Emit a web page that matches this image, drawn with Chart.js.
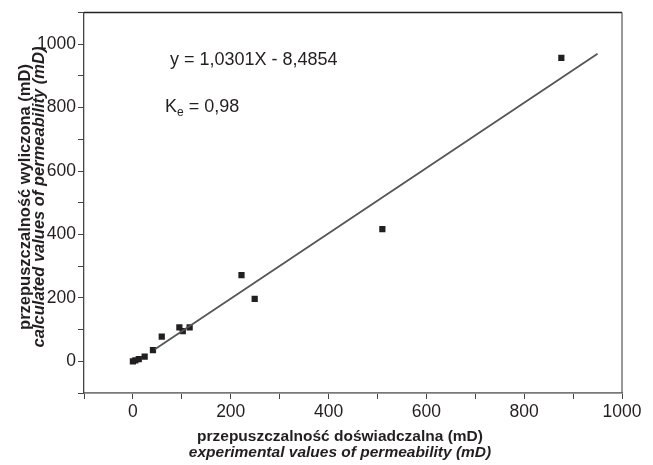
<!DOCTYPE html>
<html>
<head>
<meta charset="utf-8">
<script src="https://cdn.jsdelivr.net/npm/chart.js@4/dist/chart.umd.min.js"></script>
<style>
    body { margin: 0; background: #fff; }
    #wrap { width: 653px; height: 465px; }
</style>
</head>
<body>
<div id="wrap"><canvas id="permChart" width="653" height="465"></canvas></div>
<script>
// measured vs calculated permeability (mD)
const expValues = [0, 5, 12, 24, 41, 59, 95, 102, 116, 222, 249, 510, 876];
const calcValues = [0, 3, 7, 15, 35, 78, 107, 95, 107, 272, 197, 417, 957];

// ends of the fitted line
const fitX = [45, 950];
const fitY = [38, 970];

const xTitle = ['przepuszczalność doświadczalna (mD)', 'experimental values of permeability (mD)'];
const yTitle = ['przepuszczalność wyliczona (mD)', 'calculated values of permeability (mD)'];
const equationText = 'y = 1,0301X - 8,4854';
const keText = ['K', 'e', ' = 0,98'];

const ink = '#231f20';
const fontFamily = '"Liberation Sans", Arial, sans-serif';

const frameAndText = {
    id: 'frameAndText',
    afterDraw(chart) {
        const ctx = chart.ctx;
        const a = chart.chartArea;
        ctx.save();
        // top and right edges of the frame
        ctx.lineWidth = 1.5;
        ctx.strokeStyle = '#222';
        ctx.beginPath();
        ctx.moveTo(a.left, a.top);
        ctx.lineTo(a.right, a.top);
        ctx.stroke();
        ctx.strokeStyle = '#555';
        ctx.lineWidth = 1.2;
        ctx.beginPath();
        ctx.moveTo(a.right, a.top);
        ctx.lineTo(a.right, a.bottom);
        ctx.stroke();

        ctx.fillStyle = ink;
        // equation and coefficient
        ctx.textAlign = 'left';
        ctx.textBaseline = 'alphabetic';
        ctx.font = '18px ' + fontFamily;
        ctx.fillText(equationText, 170, 65);
        ctx.fillText(keText[0], 165, 112);
        let kx = 165 + ctx.measureText(keText[0]).width;
        ctx.font = '12px ' + fontFamily;
        ctx.fillText(keText[1], kx, 116);
        kx += ctx.measureText(keText[1]).width;
        ctx.font = '18px ' + fontFamily;
        ctx.fillText(keText[2], kx, 112);

        // x axis title
        ctx.textAlign = 'center';
        ctx.font = 'bold 15.5px ' + fontFamily;
        ctx.fillText(xTitle[0], 340, 441);
        ctx.font = 'italic bold 15.5px ' + fontFamily;
        ctx.fillText(xTitle[1], 340, 457);

        // y axis title
        ctx.translate(0, 197);
        ctx.rotate(-Math.PI / 2);
        ctx.font = 'bold 16.5px ' + fontFamily;
        ctx.fillText(yTitle[0], 0, 30);
        ctx.font = 'italic bold 16.5px ' + fontFamily;
        ctx.fillText(yTitle[1], 0, 44);
        ctx.restore();
    }
};

function tickLabel(value) {
    return value % 200 === 0 ? String(value) : '';
}

const ctx = document.getElementById('permChart').getContext('2d');
new Chart(ctx, {
    type: 'scatter',
    data: {
        datasets: [{
            type: 'line',
            data: fitX.map((x, i) => ({ x: x, y: fitY[i] })),
            borderColor: '#555',
            borderWidth: 1.8,
            pointRadius: 0,
            fill: false
        }, {
            data: expValues.map((x, i) => ({ x: x, y: calcValues[i] })),
            pointStyle: 'rect',
            pointRadius: 4.4,
            backgroundColor: ink,
            borderWidth: 0
        }]
    },
    plugins: [frameAndText],
    options: {
        responsive: false,
        animation: false,
        layout: { padding: { left: 0, right: 31, top: 12, bottom: 0 } },
        plugins: {
            legend: { display: false },
            tooltip: { enabled: false }
        },
        scales: {
            x: {
                type: 'linear',
                min: -100,
                max: 1000,
                afterFit(scale) { scale.height = 72; },
                ticks: {
                    stepSize: 100,
                    autoSkip: false,
                    maxRotation: 0,
                    padding: 3,
                    color: ink,
                    font: { family: fontFamily, size: 17.5 },
                    callback: tickLabel
                },
                grid: { drawOnChartArea: false, tickLength: 6, tickColor: '#444', tickWidth: 1 },
                border: { color: '#7a7a7a', width: 1.8 }
            },
            y: {
                type: 'linear',
                min: -100,
                max: 1100,
                afterFit(scale) { scale.width = 84; },
                ticks: {
                    stepSize: 100,
                    autoSkip: false,
                    padding: 2,
                    color: ink,
                    font: { family: fontFamily, size: 17.5 },
                    callback: tickLabel
                },
                grid: { drawOnChartArea: false, tickLength: 6, tickColor: '#444', tickWidth: 1 },
                border: { color: '#444', width: 1.3 }
            }
        }
    }
});
</script>
</body>
</html>
